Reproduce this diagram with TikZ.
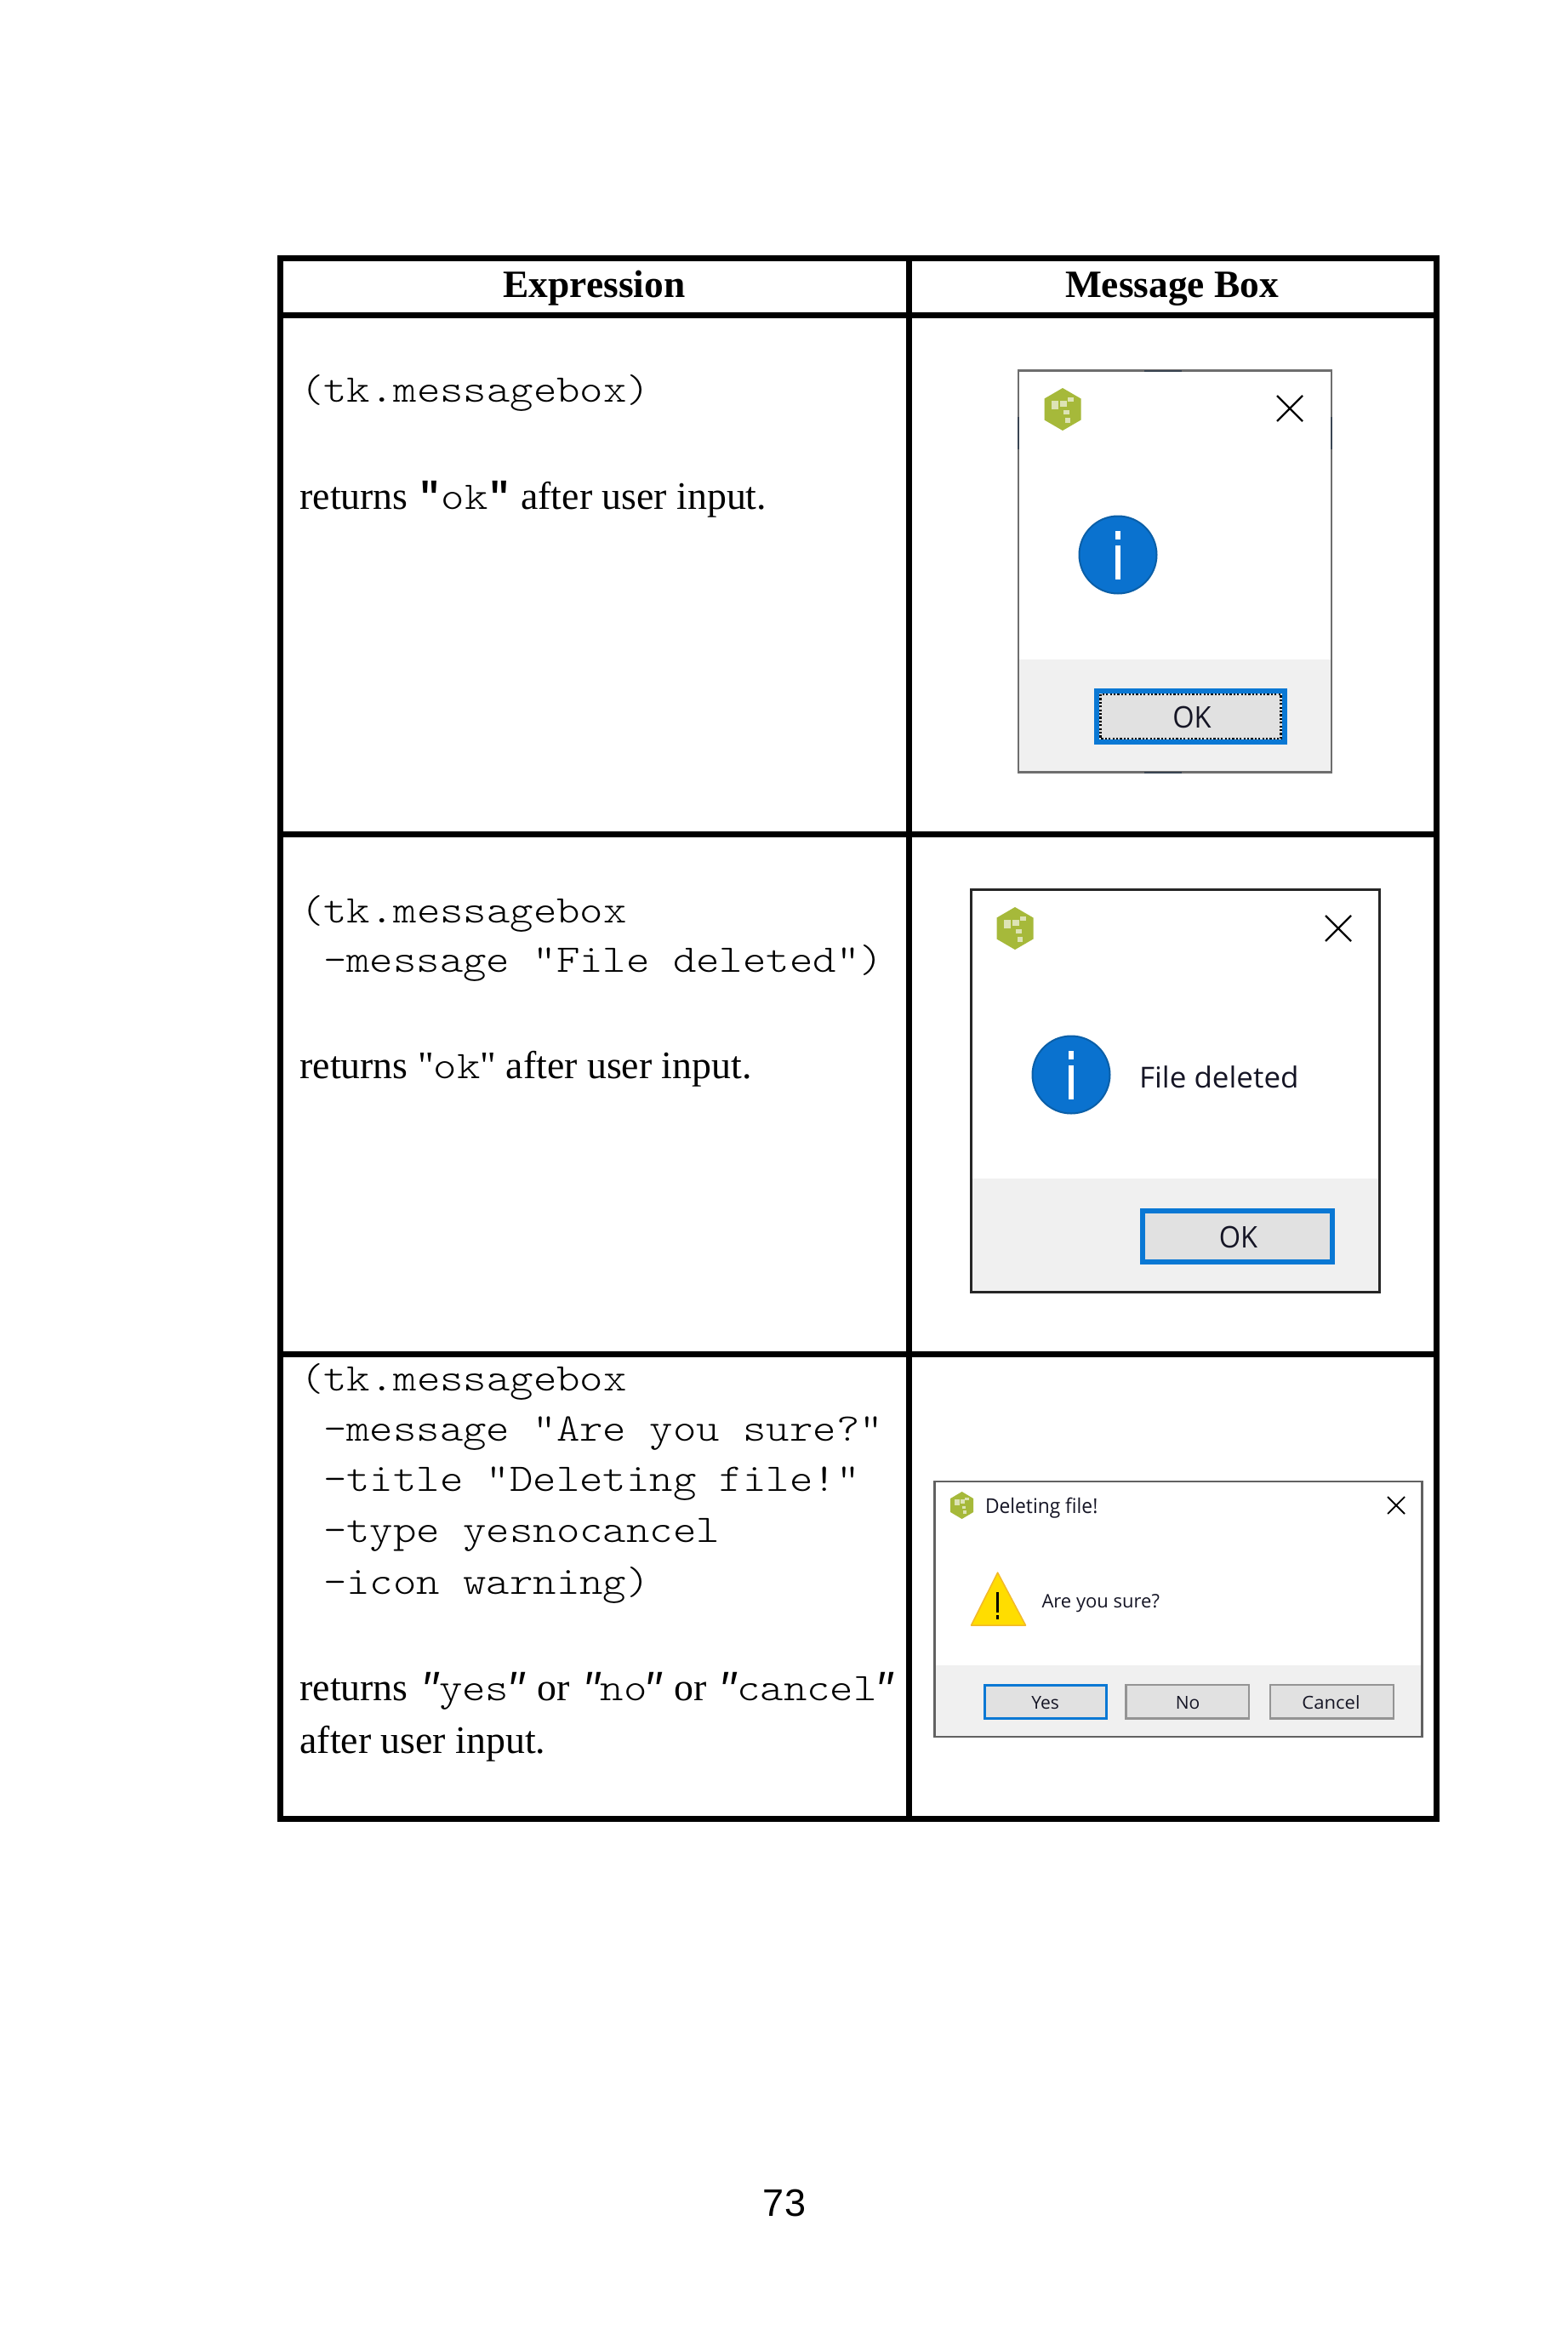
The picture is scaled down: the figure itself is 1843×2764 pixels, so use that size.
\documentclass[tikz,border=0pt]{standalone}
\usepackage{fontspec}
\usepackage{graphicx}
\setmainfont{Liberation Serif}
\newfontfamily\codef[FakeStretch=1.135]{Latin Modern Mono Light}
\newfontfamily\quotef{Liberation Mono}
\newfontfamily\plainq{Liberation Serif}
\newfontfamily\uisans{Open Sans}
\newfontfamily\pagef{Liberation Sans}
\newcommand{\cde}[1]{{\codef\fontsize{46}{60}\selectfont #1}}
\newcommand{\bq}{{\quotef\bfseries\symbol{34}}}
\newcommand{\iq}{{\quotef\itshape\symbol{34}}}
\newcommand{\sq}{{\plainq\symbol{34}}}
\newcommand{\ui}[3]{\scalebox{#2}[1]{\uisans\fontsize{#1}{#1}\selectfont #3}}
\definecolor{olivehex}{HTML}{A6B93A}
\definecolor{hexlight}{HTML}{DDE3B5}
\definecolor{infoblue}{HTML}{0A72CF}
\definecolor{infoedge}{HTML}{0A5FA8}
\definecolor{btnblue}{HTML}{0A78D4}
\definecolor{btnfill}{HTML}{E1E1E1}
\definecolor{bandgrey}{HTML}{F0F0F0}
\definecolor{warnyellow}{HTML}{FFDD00}
\definecolor{warnedge}{HTML}{F2B92A}
\definecolor{uitext}{HTML}{151525}
\definecolor{edgemark}{HTML}{3A4552}
\tikzset{
  tablerule/.style={line width=7pt,line cap=rect},
  txt/.style={anchor=base west,inner sep=0pt,outer sep=0pt,font=\fontsize{45.8}{60}\selectfont},
  headtxt/.style={anchor=base,inner sep=0pt,outer sep=0pt,font=\fontsize{45.4}{60}\selectfont\bfseries},
  uilabel/.style={inner sep=0pt,outer sep=0pt,text=uitext},
  win/.style={line width=2.5pt,draw=#1},
  band/.style={fill=bandgrey},
  btn/.style={fill=btnfill,draw=btnblue,line width=#1},
  btnoff/.style={fill=btnfill,draw=black!42,line width=2.5pt},
  closex/.style={line width=#1,black},
}
% hex icon: centre x, centre y, half width, half height
\newcommand{\hexicon}[4]{%
  \fill[olivehex] (#1,#2-#4) -- (#1+#3,#2-0.5*#4) -- (#1+#3,#2+0.5*#4) -- (#1,#2+#4) -- (#1-#3,#2+0.5*#4) -- (#1-#3,#2-0.5*#4) -- cycle;
  \fill[hexlight] (#1-0.62*#3,#2-0.42*#4) rectangle (#1-0.22*#3,#2-0.02*#4);
  \fill[hexlight] (#1-0.12*#3,#2-0.42*#4) rectangle (#1+0.22*#3,#2-0.12*#4);
  \fill[hexlight] (#1+0.28*#3,#2-0.55*#4) rectangle (#1+0.6*#3,#2-0.35*#4);
  \fill[hexlight] (#1+0.05*#3,#2+0.05*#4) rectangle (#1+0.35*#3,#2+0.25*#4);
  \fill[hexlight] (#1+0.12*#3,#2+0.38*#4) rectangle (#1+0.42*#3,#2+0.62*#4);
}
% info icon: centre x, centre y
\newcommand{\infoicon}[2]{%
  \fill[infoblue,draw=infoedge,line width=2pt] (#1,#2) circle [radius=45.5];
  \fill[white] (#1-3.3,#2-28) rectangle (#1+3.3,#2-18);
  \fill[white] (#1-3.3,#2-11) rectangle (#1+3.3,#2+29);
}
\begin{document}
\begin{tikzpicture}[x=1pt,y=-1pt]
\useasboundingbox (0,0) rectangle (1843,2764);
\fill[white] (0,0) rectangle (1843,2764);

% dialog 1
\fill[white] (1197,435.5) rectangle (1565,907.5);
\fill[band] (1197,775) rectangle (1565,907.5);
\draw[win=black!57] (1197,435.5) rectangle (1565,907.5);
\foreach \a/\b/\c/\d in {1345/434.5/1389/436.5,1345/906.5/1389/908.5,1196/490/1198/528,1564/490/1566/528}
  \fill[edgemark] (\a,\b) rectangle (\c,\d);
\hexicon{1249}{481}{21.5}{25}
\draw[closex=2.4pt] (1501,465) -- (1531,495) (1531,465) -- (1501,495);
\infoicon{1314}{652}
\draw[btn=6pt] (1289,812) rectangle (1510,872);
\draw[black,line width=2.2pt,dash pattern=on 2.2pt off 2.2pt] (1293.5,816) rectangle (1505.5,868);
\node[uilabel] (ok1) at (1401,843) {\ui{35}{0.93}{OK}};

% dialog 2
\fill[white] (1141.5,1045.5) rectangle (1621,1518);
\fill[band] (1141.5,1385) rectangle (1621,1518);
\draw[win=black!85,line width=3pt] (1141.5,1045.5) rectangle (1621,1518);
\hexicon{1193}{1091}{21.5}{25}
\draw[closex=2.4pt] (1558,1076) -- (1588,1106) (1588,1076) -- (1558,1106);
\infoicon{1259}{1263}
\draw[btn=6.5pt] (1343.2,1423.2) rectangle (1565.8,1482.8);
\node[uilabel] (ok2) at (1455.5,1454) {\ui{35}{0.93}{OK}};
\node[uilabel,anchor=base west] (fd) at (1339,1278.5) {\ui{34}{1.03}{File deleted}};

% dialog 3
\fill[white] (1098.5,1741) rectangle (1671.5,2041);
\fill[band] (1098.5,1957) rectangle (1671.5,2041);
\draw[win=black!62] (1098.5,1741) rectangle (1671.5,2041);
\hexicon{1130.6}{1769}{13.5}{16}
\node[uilabel,anchor=base west] (dt) at (1158,1778) {\ui{24}{0.95}{Deleting file!}};
\draw[closex=1.8pt] (1631,1759) -- (1651,1779) (1651,1759) -- (1631,1779);
\fill[warnyellow,draw=warnedge,line width=1.5pt,line join=round] (1172.6,1848) -- (1205.5,1910) -- (1141.5,1910) -- cycle;
\fill[black] (1171.2,1871) rectangle (1174,1895);
\fill[black] (1171,1898) rectangle (1174.2,1903);
\node[uilabel,anchor=base west] (ays) at (1224.5,1889) {\ui{22}{1.0}{Are you sure?}};
\draw[btn=3pt] (1157,1980.5) rectangle (1300,2019.2);
\draw[btnoff] (1323.6,1980.2) rectangle (1467.8,2019.5);
\draw[btnoff] (1493.2,1980.2) rectangle (1637.8,2019.5);
\node[uilabel,anchor=base] (yes) at (1228.6,2008) {\ui{21}{1.0}{Yes}};
\node[uilabel,anchor=base] (no) at (1396,2008) {\ui{21}{1.0}{No}};
\node[uilabel,anchor=base] (cancel) at (1564.5,2008) {\ui{21}{1.05}{Cancel}};

% table
\draw[tablerule] (329.5,303.5) rectangle (1688.5,2137.5);
\draw[tablerule] (1068.5,303.5) -- (1068.5,2137.5);
\draw[tablerule] (329.5,370.5) -- (1688.5,370.5);
\draw[tablerule] (329.5,980.5) -- (1688.5,980.5);
\draw[tablerule] (329.5,1591.5) -- (1688.5,1591.5);

\node[headtxt] (h1) at (698.5,349) {Expression};
\node[headtxt] (h2) at (1377.5,349) {Message Box};

% row 1
\node[txt] (a1) at (353,472.7) {\cde{(tk.messagebox)}};
\node[txt] (a2) at (352.5,598.3) {returns \bq\cde{ok}\bq{} after user input.};
% row 2
\node[txt] (b1) at (353,1084) {\cde{(tk.messagebox}};
\node[txt] (b2) at (380,1142.7) {\cde{-message "File deleted")}};
\node[txt] (b3) at (352.5,1267) {returns \sq\cde{ok}\sq{} after user input.};
% row 3
\node[txt] (c1) at (353,1634) {\cde{(tk.messagebox}};
\node[txt] (c2) at (380,1693.5) {\cde{-message "Are you sure?"}};
\node[txt] (c3) at (380,1752) {\cde{-title "Deleting file!"}};
\node[txt] (c4) at (380,1812) {\cde{-type yesnocancel}};
\node[txt] (c5) at (380,1873) {\cde{-icon warning)}};
\node[txt] (c6) at (352.5,1998) {returns \iq\kern-2.5pt\cde{yes}\kern-5.5pt\iq{} or \iq\kern-3pt\cde{no}\kern-7.5pt\iq{} or \iq\kern-3pt\cde{cancel}\kern-5pt\iq};
\node[txt] (c7) at (352.5,2060) {after user input.};

\node[inner sep=0pt,anchor=base] (pg) at (922,2604) {\pagef\fontsize{45}{45}\selectfont 73};
\end{tikzpicture}
\end{document}
